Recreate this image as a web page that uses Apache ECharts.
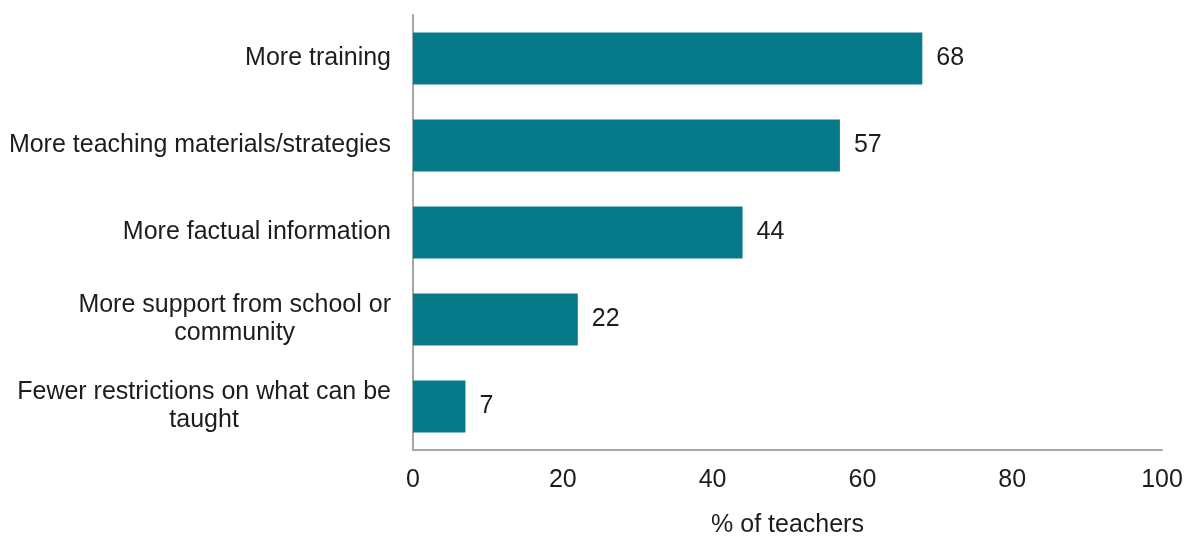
<!DOCTYPE html>
<html>
<head>
<meta charset="utf-8">
<script src="https://cdn.jsdelivr.net/npm/echarts@6/dist/echarts.min.js"></script>
<style>
  html, body { margin: 0; padding: 0; background: #fff; }
  #chart { width: 1185px; height: 536px; }
</style>
</head>
<body>
<div id="chart"></div>
<script>
  // categories top to bottom
  var categories = [
    'More training',
    'More teaching materials/strategies',
    'More factual information',
    'More support from school or\ncommunity',
    'Fewer restrictions on what can be\ntaught'
  ];
  var values = [68, 57, 44, 22, 7];
  var xTicks = [0, 20, 40, 60, 80, 100];

  var myChart = echarts.init(document.getElementById('chart'));
  var font = 'Liberation Sans, Arial, sans-serif';
  var txt = '#1d1e1a';

  var option = {
    animation: false,
    grid: { left: 413, right: 23, top: 15, bottom: 86, outerBoundsMode: 'none', containLabel: false },
    xAxis: {
      type: 'value',
      min: xTicks[0],
      max: xTicks[xTicks.length - 1],
      interval: 20,
      name: '% of teachers',
      nameLocation: 'middle',
      nameGap: 63,
      nameTextStyle: { color: txt, fontSize: 25, fontFamily: font },
      axisLine: { show: true, lineStyle: { color: '#a6a6a6', width: 2 } },
      axisTick: { show: false },
      splitLine: { show: false },
      axisLabel: { color: txt, fontSize: 25, fontFamily: font, margin: 18 }
    },
    yAxis: {
      type: 'category',
      inverse: true,
      data: categories,
      axisLine: { show: true, lineStyle: { color: '#a6a6a6', width: 2 } },
      axisTick: { show: false },
      axisLabel: {
        color: txt, fontSize: 25, fontFamily: font, margin: 22,
        align: 'right', lineHeight: 28,
        formatter: function (v) {
          return v.split('\n').map(function (s) { return '{c|' + s + '}'; }).join('\n');
        },
        rich: {
          c: { align: 'center', color: txt, fontSize: 25, fontFamily: font, lineHeight: 28 }
        }
      }
    },
    series: [{
      type: 'bar',
      data: values,
      barWidth: 52,
      itemStyle: { color: '#077a8a' },
      label: {
        show: true,
        position: 'right',
        distance: 14,
        color: txt,
        fontSize: 25,
        fontFamily: font
      }
    }]
  };

  myChart.setOption(option);
</script>
</body>
</html>
